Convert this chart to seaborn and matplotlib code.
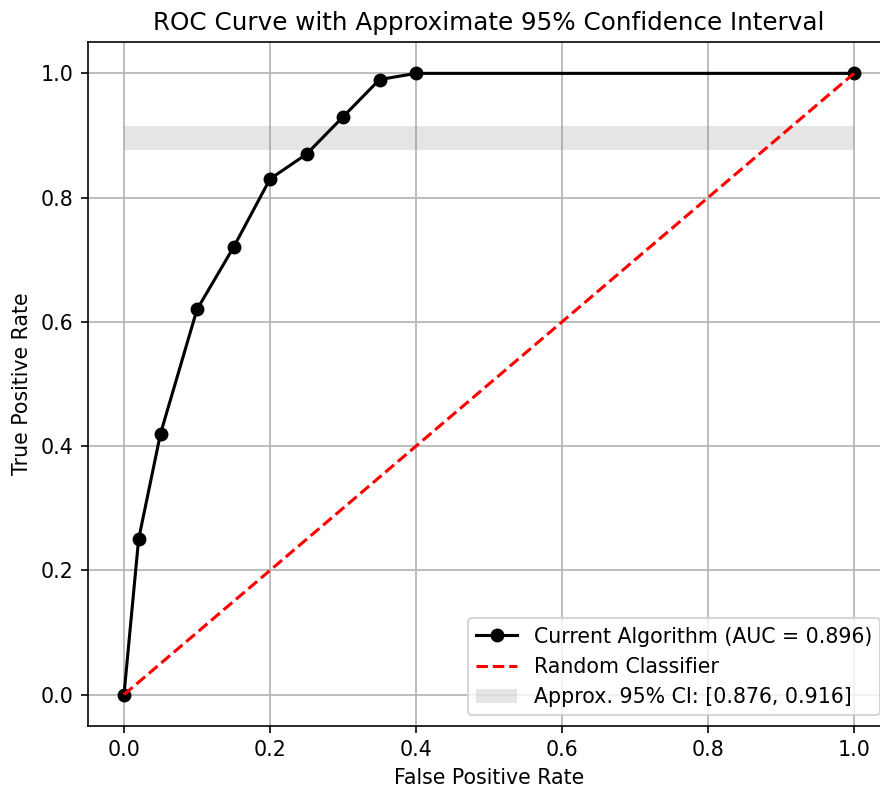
import matplotlib
matplotlib.use("Agg")
import matplotlib.pyplot as plt
import seaborn as sns
import pandas as pd

fpr = [0.0, 0.02, 0.05, 0.10, 0.15, 0.20, 0.25, 0.30, 0.35, 0.40, 1.0]
tpr = [0.0, 0.25, 0.42, 0.62, 0.72, 0.83, 0.87, 0.93, 0.99, 1.0, 1.0]
diag_x = [0.0, 1.0]
diag_y = [0.0, 1.0]
ci_low, ci_high = 0.876, 0.916
ci_x = [0.0, 1.0]
auc = 0.896

plt.rcParams['font.family'] = ['DejaVu Sans']

DPI = 148
fig = plt.figure(figsize=(880 / DPI, 791 / DPI), dpi=DPI)
ax = fig.add_axes([87.5/880, 1-725.7/791, (890.5-87.5)/880, (725.7-42.3)/791])

df = pd.DataFrame({"fpr": fpr, "tpr": tpr})
sns.lineplot(data=df, x="fpr", y="tpr", ax=ax, color="black", marker="o",
             markersize=6, linewidth=1.5, sort=False, estimator=None,
             label=f"Current Algorithm (AUC = {auc})", markeredgecolor="black")
ax.plot(diag_x, diag_y, color="red", linestyle="--", linewidth=1.5, label="Random Classifier")
ax.fill_between(ci_x, [ci_low]*2, [ci_high]*2, color="gray", alpha=0.2, linewidth=0,
                label=f"Approx. 95% CI: [{ci_low}, {ci_high}]")

ax.set_xlim(-0.05, 1.05)
ax.set_ylim(-0.05, 1.05)
ax.grid(True)
ax.set_axisbelow(True)
ax.set_xlabel("False Positive Rate")
ax.set_ylabel("True Positive Rate")
ax.set_title("ROC Curve with Approximate 95% Confidence Interval")
ax.legend(loc="lower right")

fig.savefig("out.png", dpi=DPI)
